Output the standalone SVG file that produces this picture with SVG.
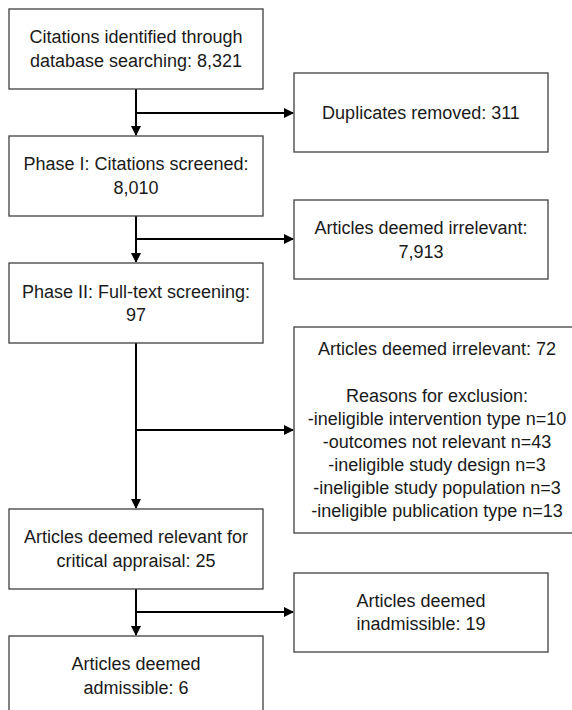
<svg xmlns="http://www.w3.org/2000/svg" width="572" height="710" viewBox="0 0 572 710">
<defs>
<style>
.box{fill:#fff;stroke:#3f3f3f;stroke-width:1.3}
.t{font-family:"Liberation Sans",Arial,sans-serif;font-size:18px;fill:#1a1a1a;text-anchor:middle}
.c{stroke:#000;stroke-width:2;fill:none}
</style>
<marker id="ah" markerWidth="10" markerHeight="10" refX="9" refY="5" orient="auto" markerUnits="userSpaceOnUse" viewBox="0 0 10 10">
<path d="M0,0 L10,5 L0,10 z" fill="#000"/>
</marker>
</defs>
<rect width="572" height="710" fill="#fff"/>
<g id="connectors">
<line class="c" x1="136" y1="89" x2="136" y2="135" marker-end="url(#ah)"/>
<line class="c" x1="136" y1="113" x2="293" y2="113" marker-end="url(#ah)"/>
<line class="c" x1="136" y1="216" x2="136" y2="262" marker-end="url(#ah)"/>
<line class="c" x1="136" y1="239" x2="293" y2="239" marker-end="url(#ah)"/>
<line class="c" x1="136" y1="343" x2="136" y2="508" marker-end="url(#ah)"/>
<line class="c" x1="136" y1="430" x2="293" y2="430" marker-end="url(#ah)"/>
<line class="c" x1="136" y1="589" x2="136" y2="635" marker-end="url(#ah)"/>
<line class="c" x1="136" y1="612" x2="293" y2="612" marker-end="url(#ah)"/>
</g>
<g id="n1"><rect class="box" x="9" y="9" width="254" height="80"/>
<text class="t" x="136" y="43">Citations identified through</text>
<text class="t" x="136" y="67">database searching: 8,321</text></g>
<g id="n2"><rect class="box" x="294" y="73" width="254" height="79"/>
<text class="t" x="421" y="119">Duplicates removed: 311</text></g>
<g id="n3"><rect class="box" x="9" y="136" width="254" height="80"/>
<text class="t" x="136" y="170">Phase I: Citations screened:</text>
<text class="t" x="136" y="194">8,010</text></g>
<g id="n4"><rect class="box" x="294" y="200" width="254" height="79"/>
<text class="t" x="421" y="234">Articles deemed irrelevant:</text>
<text class="t" x="421" y="258">7,913</text></g>
<g id="n5"><rect class="box" x="9" y="263" width="254" height="80"/>
<text class="t" x="136" y="298">Phase II: Full-text screening:</text>
<text class="t" x="136" y="321">97</text></g>
<g id="n6"><rect class="box" x="294" y="327" width="290" height="206"/>
<text class="t" x="437" y="355">Articles deemed irrelevant: 72</text>
<text class="t" x="437" y="402">Reasons for exclusion:</text>
<text class="t" x="437" y="425">-ineligible intervention type n=10</text>
<text class="t" x="437" y="448">-outcomes not relevant n=43</text>
<text class="t" x="437" y="471">-ineligible study design n=3</text>
<text class="t" x="437" y="494">-ineligible study population n=3</text>
<text class="t" x="437" y="517">-ineligible publication type n=13</text></g>
<g id="n7"><rect class="box" x="9" y="509" width="254" height="80"/>
<text class="t" x="136" y="543">Articles deemed relevant for</text>
<text class="t" x="136" y="567">critical appraisal: 25</text></g>
<g id="n8"><rect class="box" x="294" y="573" width="254" height="79"/>
<text class="t" x="421" y="607">Articles deemed</text>
<text class="t" x="421" y="630">inadmissible: 19</text></g>
<g id="n9"><rect class="box" x="9" y="636" width="254" height="90"/>
<text class="t" x="136" y="670">Articles deemed</text>
<text class="t" x="136" y="694">admissible: 6</text></g>
</svg>
